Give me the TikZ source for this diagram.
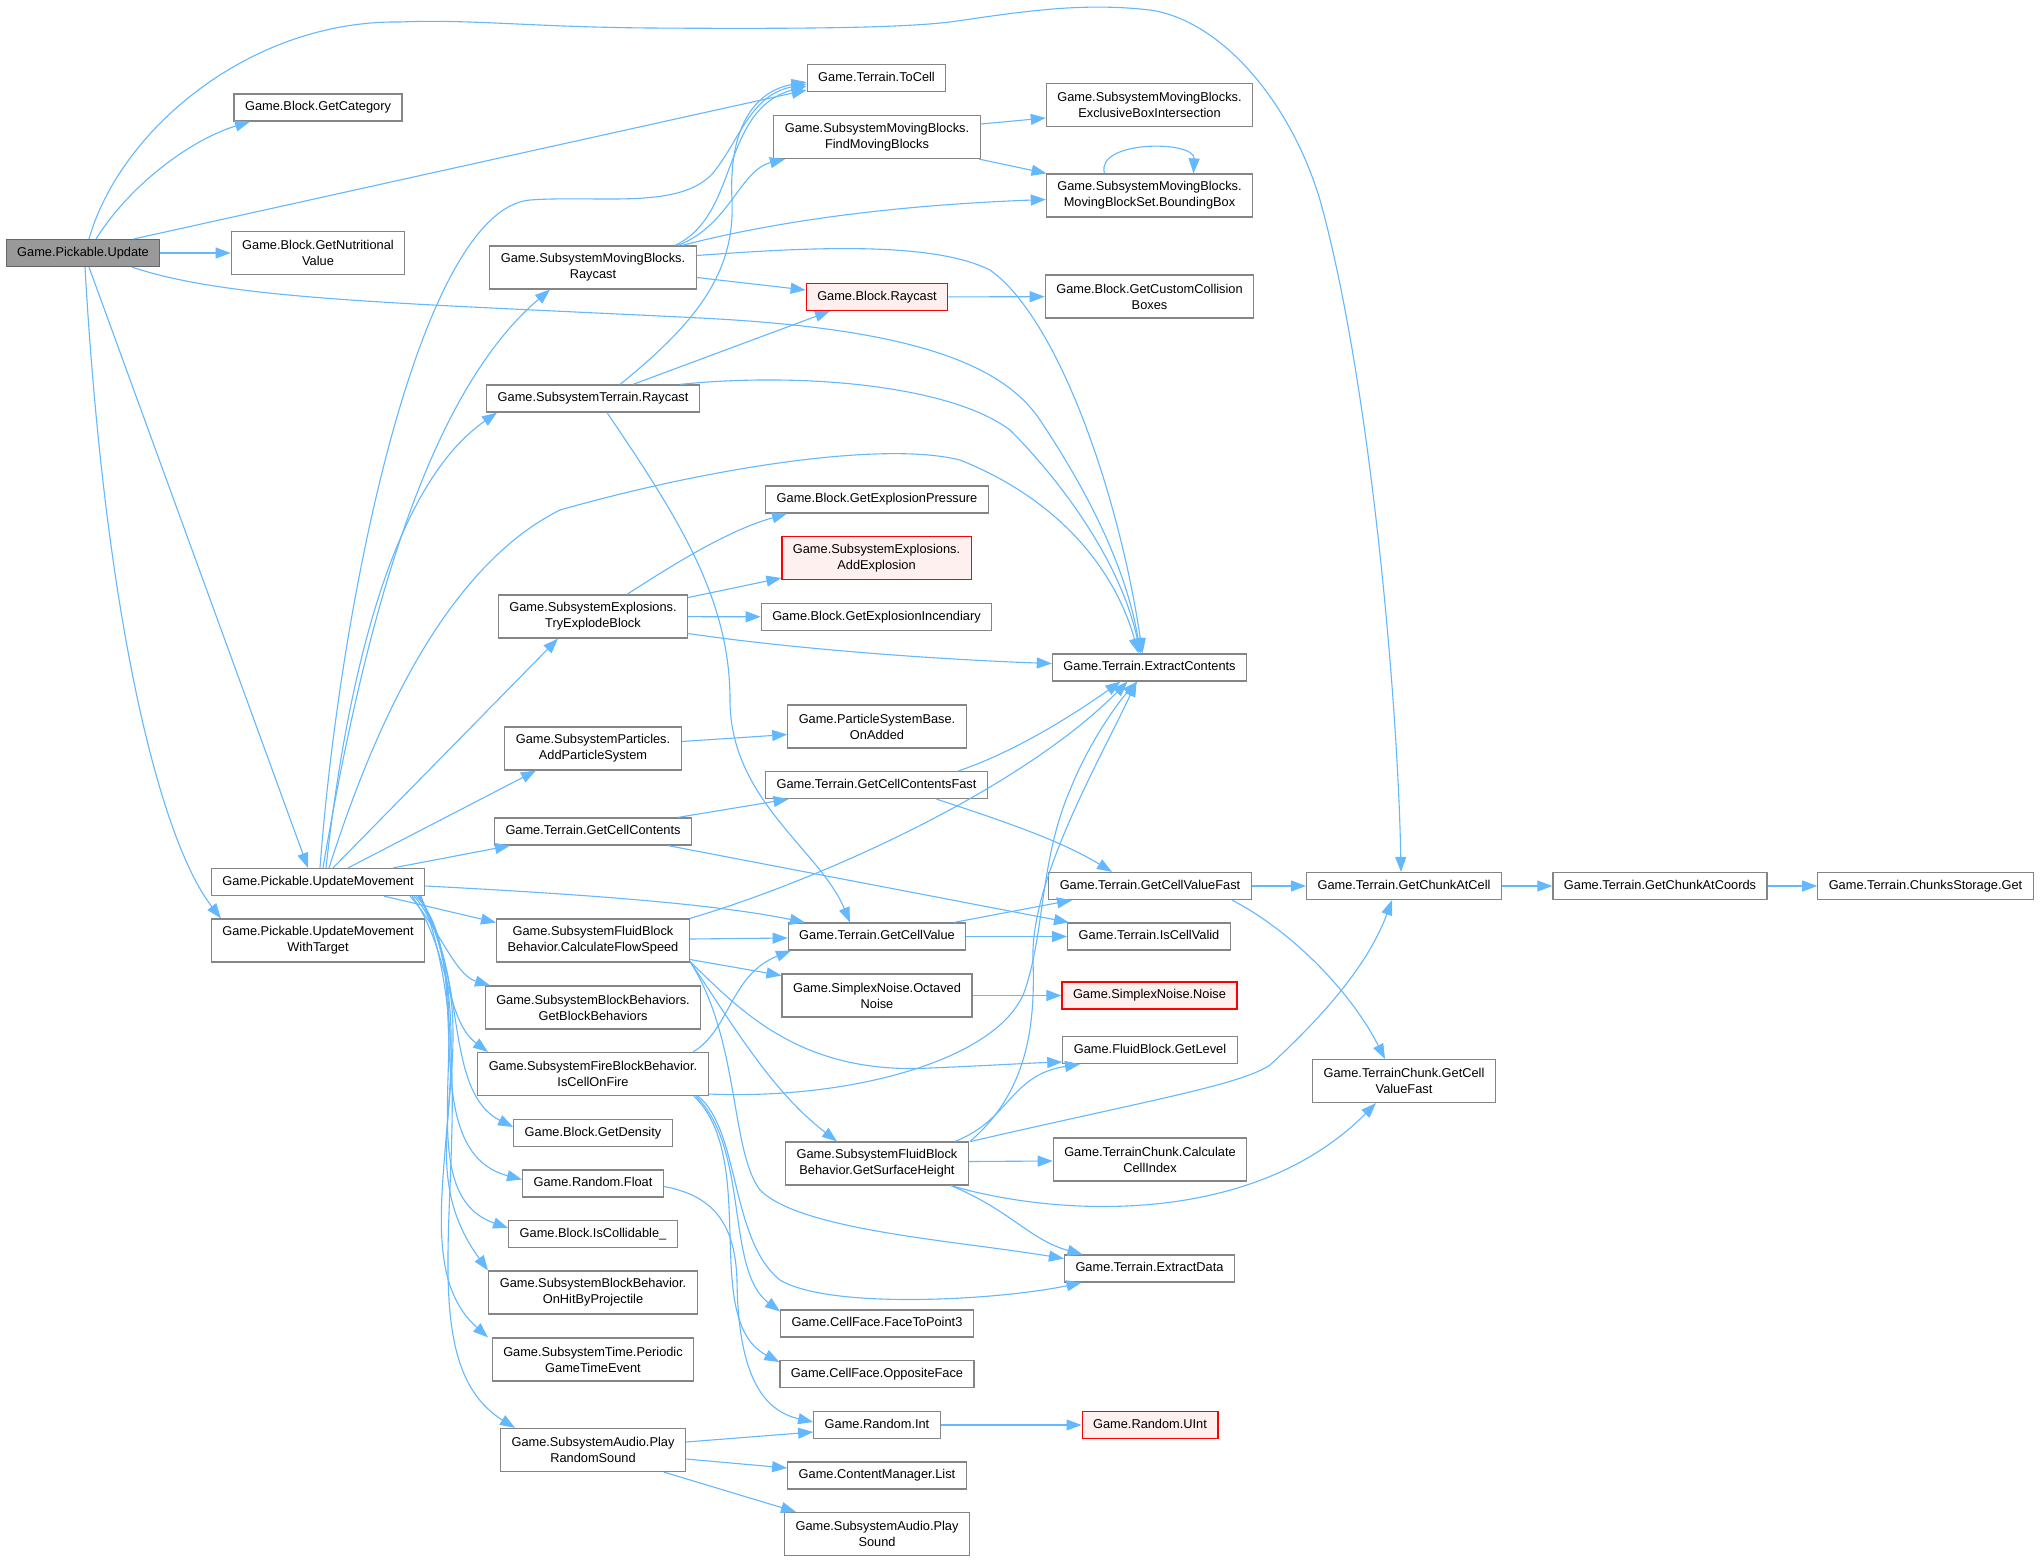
\documentclass[tikz,border=0pt]{standalone}
\usepackage{fontspec}
\setmainfont{Liberation Sans}
\usetikzlibrary{arrows.meta}
\definecolor{edgeblue}{HTML}{63B8FF}
\definecolor{boxgray}{HTML}{858585}
\definecolor{rootfill}{HTML}{999999}
\definecolor{hotfill}{HTML}{FFF0F0}

\begin{document}
\begin{tikzpicture}
        [
            x=1pt, y=-1pt,
            fn/.style={rectangle, draw=boxgray, line width=1.2pt, fill=white, inner xsep=11pt, inner ysep=0pt,
                minimum height=27pt, text height=9.2pt, text depth=2.6pt, font=\fontsize{12.8}{16}\selectfont},
            fnn/.style={fn, text height={}, text depth={}, align=center, minimum height=43pt},
            hot/.style={draw=red, fill=hotfill},
            root/.style={draw=black!60, fill=rootfill},
            call/.style={draw=edgeblue, line width=1.1pt, -{Triangle[length=15pt,width=11pt]}},
        ]
        \useasboundingbox[fill=white] (0,0) rectangle (2040,1561);

        % column 0 and 1
        \node[fn, root] (upd) at (83,253) {Game.Pickable.Update};
        \node[fn] (cat) at (318,107.5) {Game.Block.GetCategory};
        \node[fnn] (nut) at (318,253) {Game.Block.GetNutritional\\Value};
        \node[fn] (mov) at (318,882) {Game.Pickable.UpdateMovement};
        \node[fnn] (movt) at (318,940.5) {Game.Pickable.UpdateMovement\\WithTarget};

        % column 2
        \node[fnn] (mbray) at (593,267.5) {Game.SubsystemMovingBlocks.\\Raycast};
        \node[fn] (stray) at (593,398.5) {Game.SubsystemTerrain.Raycast};
        \node[fnn] (tryexp) at (593,616.5) {Game.SubsystemExplosions.\\TryExplodeBlock};
        \node[fnn] (addps) at (593,748.5) {Game.SubsystemParticles.\\AddParticleSystem};
        \node[fn] (gcc) at (593,831.5) {Game.Terrain.GetCellContents};
        \node[fnn] (cfs) at (593,940.5) {Game.SubsystemFluidBlock\\Behavior.CalculateFlowSpeed};
        \node[fnn] (gbb) at (593,1007.5) {Game.SubsystemBlockBehaviors.\\GetBlockBehaviors};
        \node[fnn] (icof) at (593,1074) {Game.SubsystemFireBlockBehavior.\\IsCellOnFire};
        \node[fn] (dens) at (593,1133) {Game.Block.GetDensity};
        \node[fn] (rfloat) at (593,1183.5) {Game.Random.Float};
        \node[fn] (coll) at (593,1234) {Game.Block.IsCollidable\_};
        \node[fnn] (ohbp) at (593,1292.5) {Game.SubsystemBlockBehavior.\\OnHitByProjectile};
        \node[fnn] (pgte) at (593,1359.5) {Game.SubsystemTime.Periodic\\GameTimeEvent};
        \node[fnn] (prs) at (593,1450) {Game.SubsystemAudio.Play\\RandomSound};

        % column 3
        \node[fn] (tocell) at (876.5,78) {Game.Terrain.ToCell};
        \node[fnn] (fmb) at (877,137) {Game.SubsystemMovingBlocks.\\FindMovingBlocks};
        \node[fn, hot] (braycast) at (877,297) {Game.Block.Raycast};
        \node[fn] (gep) at (877,499.5) {Game.Block.GetExplosionPressure};
        \node[fnn, hot] (addexp) at (876.5,558) {Game.SubsystemExplosions.\\AddExplosion};
        \node[fn] (gei) at (876.5,617) {Game.Block.GetExplosionIncendiary};
        \node[fnn] (onadd) at (877,726.5) {Game.ParticleSystemBase.\\OnAdded};
        \node[fn] (gccf) at (876.5,785) {Game.Terrain.GetCellContentsFast};
        \node[fn] (gcv) at (877,936.5) {Game.Terrain.GetCellValue};
        \node[fnn] (octn) at (877,995.5) {Game.SimplexNoise.Octaved\\Noise};
        \node[fnn] (gsh) at (877,1163.5) {Game.SubsystemFluidBlock\\Behavior.GetSurfaceHeight};
        \node[fn] (f2p) at (877,1323.5) {Game.CellFace.FaceToPoint3};
        \node[fn] (opp) at (877,1374) {Game.CellFace.OppositeFace};
        \node[fn] (rint) at (877,1425) {Game.Random.Int};
        \node[fn] (cml) at (877,1475.5) {Game.ContentManager.List};
        \node[fnn] (psnd) at (877,1534) {Game.SubsystemAudio.Play\\Sound};

        % column 4
        \node[fnn] (ebi) at (1149.5,105) {Game.SubsystemMovingBlocks.\\ExclusiveBoxIntersection};
        \node[fnn] (bbox) at (1149.5,195.5) {Game.SubsystemMovingBlocks.\\MovingBlockSet.BoundingBox};
        \node[fnn] (gccb) at (1149.5,296.5) {Game.Block.GetCustomCollision\\Boxes};
        \node[fn] (extc) at (1149.5,667.5) {Game.Terrain.ExtractContents};
        \node[fn] (gcvf) at (1150,886) {Game.Terrain.GetCellValueFast};
        \node[fn] (icv) at (1149,936.5) {Game.Terrain.IsCellValid};
        \node[fn, hot] (noise) at (1149.5,995.5) {Game.SimplexNoise.Noise};
        \node[fn] (glev) at (1150,1050) {Game.FluidBlock.GetLevel};
        \node[fnn] (ccidx) at (1150,1159.5) {Game.TerrainChunk.Calculate\\CellIndex};
        \node[fn] (extd) at (1149.5,1268.5) {Game.Terrain.ExtractData};
        \node[fn, hot] (uint) at (1150,1425) {Game.Random.UInt};

        % columns 5 to 7
        \node[fn] (gcac) at (1404,886) {Game.Terrain.GetChunkAtCell};
        \node[fnn] (tcgcvf) at (1404,1081) {Game.TerrainChunk.GetCell\\ValueFast};
        \node[fn] (gcaco) at (1660,886) {Game.Terrain.GetChunkAtCoords};
        \node[fn] (csget) at (1925.5,886) {Game.Terrain.ChunksStorage.Get};

        % straight calls
        \foreach \a/\b in {upd/nut, braycast/gccb, tryexp/gei, gcv/icv, octn/noise, gcvf/gcac, gcac/gcaco, gcaco/csget, rint/uint}
            \draw[call] (\a) -- (\b);

        % Game.Pickable.Update
        \draw[call] ([xshift=6]upd.north) .. controls (120,130) and (250,20) .. (400,22)
            .. controls (470,19) and (530,27) .. (650,28) .. controls (800,29) and (900,28) .. (950,22)
            .. controls (1020,12) and (1080,2) .. (1150,10) .. controls (1220,20) and (1290,100) .. (1320,200)
            .. controls (1370,380) and (1398,700) .. ([xshift=-3]gcac.north);
        \draw[call] ([xshift=13]upd.north) .. controls (130,185) and (190,140) .. ([xshift=-68]cat.south);
        \draw[call] ([xshift=51]upd.north) -- ([yshift=-12]tocell.west);
        \draw[call] ([xshift=49]upd.south) .. controls (230,300) and (400,303) .. (700,318)
            .. controls (900,328) and (1000,360) .. (1040,420) .. controls (1080,480) and (1125,560) .. ([xshift=-9]extc.north);
        \draw[call] ([xshift=6]upd.south) -- ([xshift=-10]mov.north);
        \draw[call] ([xshift=2]upd.south) .. controls (105,620) and (160,840) .. ([xshift=-97]movt.north);

        % Game.Pickable.UpdateMovement
        \draw[call] ([xshift=2]mov.north) .. controls (340,600) and (420,210) .. (530,200)
            .. controls (600,195) and (680,210) .. (713,173) .. controls (740,140) and (750,95) .. ([yshift=-6]tocell.west);
        \draw[call] ([xshift=5]mov.north) .. controls (360,650) and (420,400) .. ([xshift=-43]mbray.south);
        \draw[call] ([xshift=8]mov.north) .. controls (350,650) and (400,480) .. ([xshift=-96]stray.south);
        \draw[call] ([xshift=11]mov.north) .. controls (370,740) and (440,570) .. (560,510)
            .. controls (700,470) and (880,440) .. (960,460) .. controls (1060,500) and (1115,570) .. ([xshift=-11]extc.north);
        \draw[call] ([xshift=15]mov.north) -- ([xshift=-35]tryexp.south);
        \draw[call] ([xshift=30]mov.north) -- ([xshift=-57]addps.south);
        \draw[call] ([xshift=75]mov.north) -- ([xshift=-83]gcc.south);
        \draw[call] ([yshift=-4]mov.east) .. controls (600,895) and (720,905) .. ([xshift=-72]gcv.north);
        \draw[call] ([xshift=66]mov.south) -- ([yshift=18]cfs.west);
        \draw[call] ([xshift=92]mov.south) .. controls (440,930) and (455,975) .. ([xshift=-103]gbb.north);
        \draw[call] ([xshift=94]mov.south) .. controls (450,950) and (445,1020) .. ([xshift=-105]icof.north);
        \draw[call] ([xshift=96]mov.south) .. controls (470,960) and (440,1090) .. ([yshift=6]dens.west);
        \draw[call] ([xshift=98]mov.south) .. controls (480,960) and (410,1150) .. ([yshift=4]rfloat.west);
        \draw[call] ([xshift=100]mov.south) .. controls (490,1000) and (400,1190) .. ([yshift=6]coll.west);
        \draw[call] ([xshift=101]mov.south) .. controls (500,1050) and (400,1150) .. ([xshift=-105]ohbp.north);
        \draw[call] ([xshift=102]mov.south) .. controls (500,1050) and (390,1250) .. ([xshift=-105]pgte.north);
        \draw[call] ([xshift=103]mov.south) .. controls (500,1100) and (390,1350) .. ([xshift=-78]prs.north);

        % Game.SubsystemMovingBlocks.Raycast
        \draw[call] ([xshift=82]mbray.north) .. controls (740,215) and (720,110) .. ([yshift=-8]tocell.west);
        \draw[call] ([xshift=85]mbray.north) .. controls (730,225) and (740,170) .. ([xshift=-92]fmb.south);
        \draw[call] ([xshift=89]mbray.north) .. controls (780,220) and (900,205) .. ([yshift=-4]bbox.west);
        \draw[call] ([yshift=-10]mbray.east) -- ([yshift=7]braycast.west);
        \draw[call] ([yshift=12]mbray.east) .. controls (800,248) and (930,240) .. (990,270)
            .. controls (1060,320) and (1120,500) .. ([xshift=-7]extc.north);

        % Game.SubsystemTerrain.Raycast
        \draw[call] ([xshift=27]stray.north) .. controls (700,320) and (735,270) .. (732,200)
            .. controls (728,120) and (760,90) .. ([yshift=-4]tocell.west);
        \draw[call] ([xshift=40]stray.north) -- ([xshift=-47]braycast.south);
        \draw[call] ([xshift=87]stray.north) .. controls (800,372) and (950,385) .. (1010,430)
            .. controls (1060,480) and (1120,560) .. ([xshift=-9]extc.north);
        \draw[call] ([xshift=14]stray.south) .. controls (680,520) and (730,600) .. (730,700)
            .. controls (730,800) and (820,850) .. ([xshift=-27]gcv.north);

        \draw[call] ([yshift=13]fmb.east) -- ([yshift=-13]ebi.west);
        \draw[call] ([xshift=102]fmb.south) -- ([xshift=-103]bbox.north);
        \draw[call] ([xshift=-45]bbox.north) .. controls (1095,140) and (1195,140) .. ([xshift=44]bbox.north);

        % Game.SubsystemExplosions.TryExplodeBlock
        \draw[call] ([xshift=34]tryexp.north) .. controls (680,560) and (730,530) .. ([xshift=-90]gep.south);
        \draw[call] ([yshift=19]tryexp.east) -- ([yshift=-20]addexp.west);
        \draw[call] ([yshift=-17]tryexp.east) .. controls (800,650) and (950,660) .. ([yshift=4]extc.west);

        \draw[call] ([yshift=7]addps.east) -- ([yshift=-8]onadd.west);
        \draw[call] ([xshift=85]gcc.north) -- ([xshift=-88]gccf.south);
        \draw[call] ([xshift=75]gcc.south) -- ([xshift=-80]icv.north);
        \draw[call] ([xshift=82]gccf.north) .. controls (1020,750) and (1080,710) .. ([xshift=-29]extc.south);
        \draw[call] ([xshift=60]gccf.south) .. controls (1000,820) and (1060,840) .. ([xshift=-38]gcvf.north);
        \draw[call] ([xshift=77]gcv.north) -- ([xshift=-78]gcvf.south);

        % Game.SubsystemFluidBlockBehavior.CalculateFlowSpeed
        \draw[call] ([xshift=97]cfs.north) .. controls (820,880) and (1020,790) .. ([xshift=-22]extc.south);
        \draw[call] ([yshift=1.5]cfs.east) -- ([yshift=-1.5]gcv.west);
        \draw[call] ([yshift=-19]cfs.east) -- ([yshift=20]octn.west);
        \draw[call] ([yshift=-21]cfs.east) .. controls (740,1010) and (800,1075) .. (930,1068)
            .. controls (980,1066) and (1030,1063) .. ([yshift=-12]glev.west);
        \draw[call] ([yshift=-21]cfs.east) .. controls (730,1020) and (770,1090) .. ([xshift=-40]gsh.north);
        \draw[call] ([yshift=-21]cfs.east) .. controls (740,1040) and (730,1150) .. (760,1190)
            .. controls (800,1230) and (950,1240) .. ([yshift=10]extd.west);

        % Game.SubsystemFireBlockBehavior.IsCellOnFire
        \draw[call] ([xshift=100]icof.north) .. controls (730,1030) and (730,975) .. ([xshift=-86]gcv.south);
        \draw[call] ([yshift=-20]icof.east) .. controls (850,1100) and (1000,1060) .. (1025,990)
            .. controls (1045,930) and (1040,860) .. (1070,790) .. controls (1090,740) and (1120,700) .. ([xshift=-12]extc.south);
        \draw[call] ([xshift=105]icof.south) .. controls (740,1130) and (730,1240) .. (780,1280)
            .. controls (830,1310) and (1000,1300) .. ([xshift=-68]extd.south);
        \draw[call] ([xshift=103]icof.south) .. controls (750,1150) and (725,1270) .. ([yshift=12]f2p.west);
        \draw[call] ([xshift=101]icof.south) .. controls (760,1160) and (700,1320) .. ([yshift=12]opp.west);

        \draw[call] ([yshift=-3]rfloat.east) .. controls (710,1195) and (735,1220) .. (737,1280)
            .. controls (738,1370) and (760,1410) .. ([yshift=3]rint.west);

        % Game.SubsystemFluidBlockBehavior.GetSurfaceHeight
        \draw[call] ([xshift=93]gsh.north) .. controls (1030,1090) and (1035,1020) .. (1033,960)
            .. controls (1030,880) and (1100,760) .. ([xshift=-13]extc.south);
        \draw[call] ([xshift=78]gsh.north) .. controls (1010,1120) and (1010,1075) .. ([xshift=-70]glev.south);
        \draw[call] ([xshift=94]gsh.north) .. controls (1150,1100) and (1240,1085) .. (1270,1065)
            .. controls (1330,1010) and (1370,960) .. ([xshift=-12]gcac.south);
        \draw[call] ([yshift=2]gsh.east) -- ([yshift=-1.5]ccidx.west);
        \draw[call] ([xshift=74]gsh.south) .. controls (1050,1215) and (1250,1230) .. ([xshift=-28]tcgcvf.south);
        \draw[call] ([xshift=74]gsh.south) .. controls (1010,1210) and (1030,1240) .. ([xshift=-67]extd.north);

        \draw[call] ([xshift=82]gcvf.south) .. controls (1290,930) and (1350,990) .. ([xshift=-19]tcgcvf.north);

        % Game.SubsystemAudio.PlayRandomSound
        \draw[call] ([yshift=8]prs.east) -- ([yshift=-7]rint.west);
        \draw[call] ([yshift=-9]prs.east) -- ([yshift=7.5]cml.west);
        \draw[call] ([xshift=71]prs.south) -- ([xshift=-81]psnd.north);
\end{tikzpicture}
\end{document}
